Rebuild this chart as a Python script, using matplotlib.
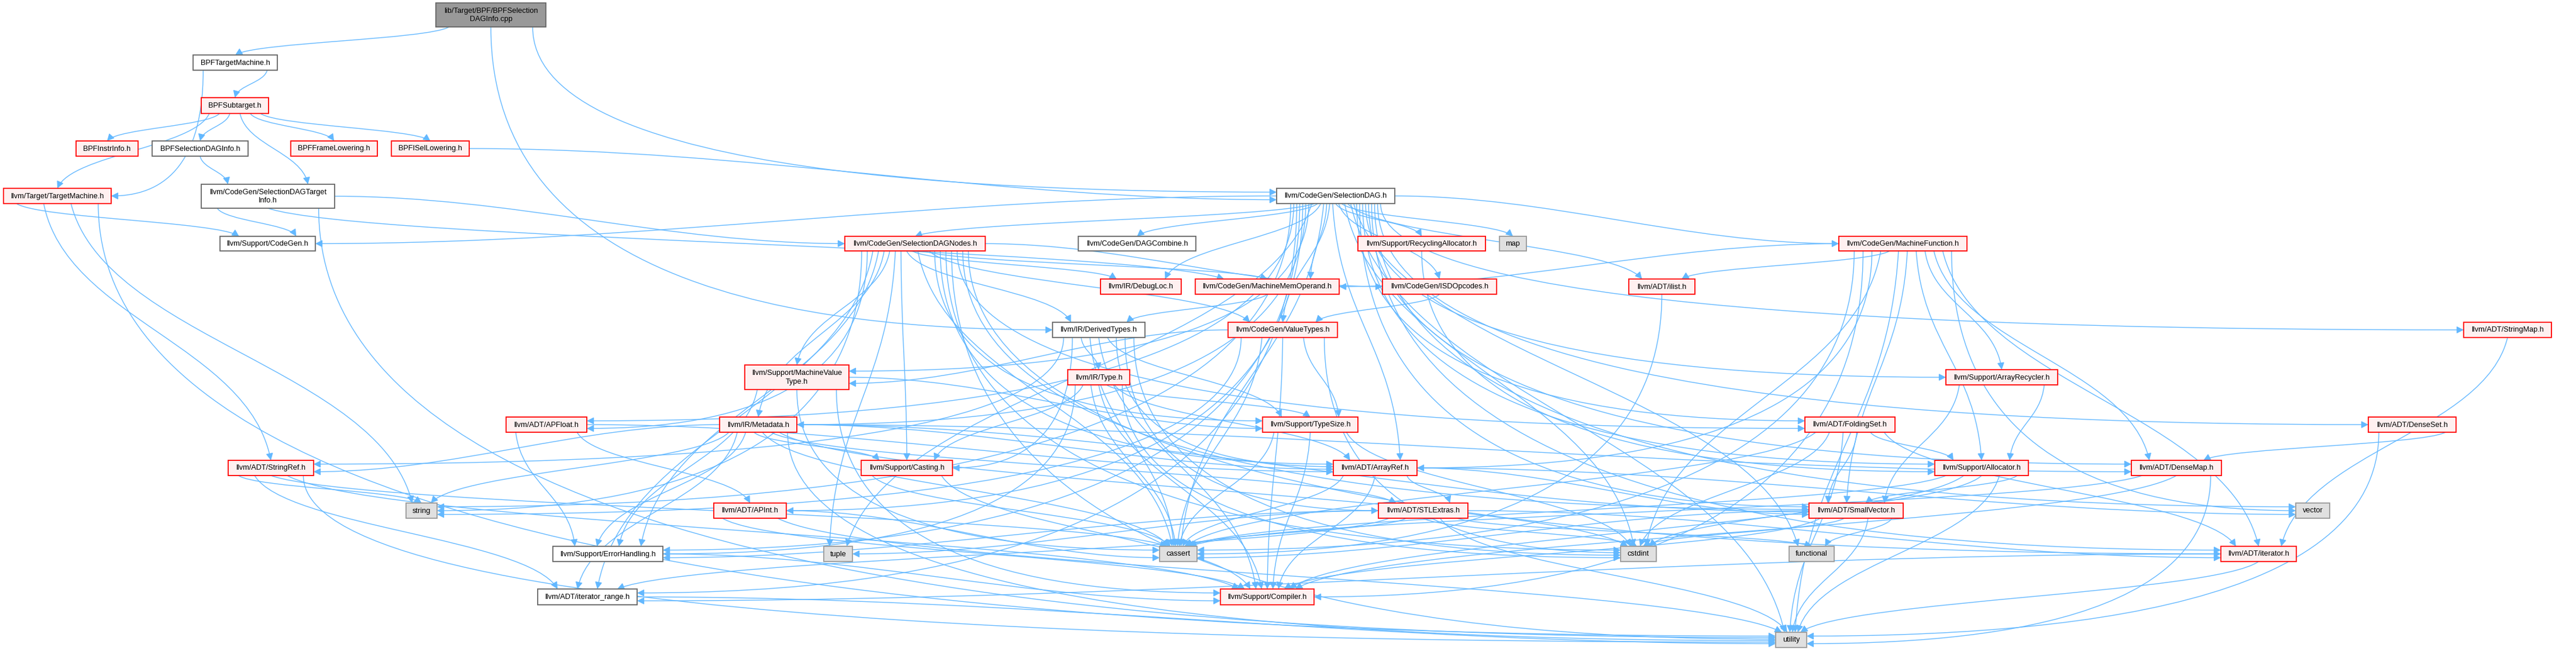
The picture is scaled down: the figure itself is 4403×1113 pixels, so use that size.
import matplotlib
matplotlib.use("Agg")
import matplotlib.pyplot as plt
from matplotlib.patches import Rectangle, FancyArrowPatch, ArrowStyle
from matplotlib.path import Path

# ---------------- data: node labels and include edges ----------------
ROOT = "lib/Target/BPF/BPFSelection\nDAGInfo.cpp"
SDTI = "llvm/CodeGen/SelectionDAGTarget\nInfo.h"
MVT = "llvm/Support/MachineValue\nType.h"

red_nodes = [
    "BPFSubtarget.h", "BPFInstrInfo.h", "BPFFrameLowering.h", "BPFISelLowering.h",
    "llvm/Target/TargetMachine.h", "llvm/CodeGen/SelectionDAGNodes.h",
    "llvm/Support/RecyclingAllocator.h", "llvm/CodeGen/MachineFunction.h",
    "llvm/IR/DebugLoc.h", "llvm/CodeGen/MachineMemOperand.h", "llvm/CodeGen/ISDOpcodes.h",
    "llvm/ADT/ilist.h", "llvm/CodeGen/ValueTypes.h", "llvm/ADT/StringMap.h", MVT,
    "llvm/IR/Type.h", "llvm/Support/ArrayRecycler.h", "llvm/ADT/APFloat.h",
    "llvm/IR/Metadata.h", "llvm/Support/TypeSize.h", "llvm/ADT/FoldingSet.h",
    "llvm/ADT/DenseSet.h", "llvm/ADT/StringRef.h", "llvm/Support/Casting.h",
    "llvm/ADT/ArrayRef.h", "llvm/Support/Allocator.h", "llvm/ADT/DenseMap.h",
    "llvm/ADT/APInt.h", "llvm/ADT/STLExtras.h", "llvm/ADT/SmallVector.h",
    "llvm/ADT/iterator.h", "llvm/Support/Compiler.h",
]
white_nodes = [
    "BPFTargetMachine.h", "BPFSelectionDAGInfo.h", SDTI, "llvm/CodeGen/SelectionDAG.h",
    "llvm/Support/CodeGen.h", "llvm/CodeGen/DAGCombine.h", "llvm/IR/DerivedTypes.h",
    "llvm/Support/ErrorHandling.h", "llvm/ADT/iterator_range.h",
]
system_nodes = ["map", "string", "vector", "tuple", "cassert", "cstdint", "functional", "utility"]

SD = "llvm/CodeGen/SelectionDAG.h"
SDN = "llvm/CodeGen/SelectionDAGNodes.h"
MF = "llvm/CodeGen/MachineFunction.h"
MMO = "llvm/CodeGen/MachineMemOperand.h"

includes = {
    ROOT: ["BPFTargetMachine.h", SD, "llvm/IR/DerivedTypes.h"],
    "BPFTargetMachine.h": ["BPFSubtarget.h", "llvm/Target/TargetMachine.h"],
    "BPFSubtarget.h": ["BPFInstrInfo.h", "BPFSelectionDAGInfo.h", "BPFFrameLowering.h",
                       "BPFISelLowering.h", SDTI, "llvm/Target/TargetMachine.h"],
    "BPFSelectionDAGInfo.h": [SDTI],
    "BPFISelLowering.h": [SD],
    "llvm/Target/TargetMachine.h": ["llvm/Support/CodeGen.h", "llvm/ADT/StringRef.h", "string", "utility"],
    SDTI: ["llvm/Support/CodeGen.h", SDN, MMO, "utility"],
    SD: ["llvm/ADT/APFloat.h", "llvm/ADT/APInt.h", "llvm/ADT/ArrayRef.h", "llvm/ADT/DenseMap.h",
         "llvm/ADT/DenseSet.h", "llvm/ADT/FoldingSet.h", "llvm/ADT/SmallVector.h",
         "llvm/ADT/StringMap.h", "llvm/ADT/ilist.h", "llvm/ADT/iterator.h",
         "llvm/ADT/iterator_range.h", "llvm/CodeGen/DAGCombine.h", "llvm/CodeGen/ISDOpcodes.h",
         MF, MMO, SDN, "llvm/CodeGen/ValueTypes.h", "llvm/IR/DebugLoc.h", "llvm/IR/Metadata.h",
         "llvm/Support/Allocator.h", "llvm/Support/ArrayRecycler.h", "llvm/Support/CodeGen.h",
         "llvm/Support/ErrorHandling.h", "llvm/Support/RecyclingAllocator.h", MVT,
         "cassert", "cstdint", "functional", "map", "string", "tuple", "utility", "vector"],
    SDN: ["llvm/ADT/APFloat.h", "llvm/ADT/ArrayRef.h", "llvm/ADT/FoldingSet.h",
          "llvm/ADT/SmallVector.h", "llvm/ADT/iterator.h", "llvm/ADT/iterator_range.h",
          "llvm/CodeGen/ISDOpcodes.h", MMO, "llvm/CodeGen/ValueTypes.h", "llvm/IR/DebugLoc.h",
          "llvm/IR/Metadata.h", "llvm/Support/Casting.h", "llvm/Support/ErrorHandling.h", MVT,
          "llvm/Support/TypeSize.h", "llvm/IR/DerivedTypes.h", "cassert", "cstdint", "string",
          "tuple", "utility"],
    MF: ["llvm/ADT/ArrayRef.h", "llvm/ADT/DenseMap.h", "llvm/ADT/SmallVector.h", "llvm/ADT/ilist.h",
         "llvm/ADT/iterator.h", MMO, "llvm/Support/Allocator.h", "llvm/Support/ArrayRecycler.h",
         "llvm/Support/Compiler.h", "cassert", "cstdint", "utility", "vector"],
    MMO: ["llvm/IR/DerivedTypes.h"],
    "llvm/CodeGen/ISDOpcodes.h": ["llvm/CodeGen/ValueTypes.h"],
    "llvm/ADT/ilist.h": ["cassert"],
    "llvm/CodeGen/ValueTypes.h": [MVT, "llvm/Support/TypeSize.h", "llvm/Support/Compiler.h",
                                  "cassert", "cstdint", "string"],
    "llvm/IR/DerivedTypes.h": ["llvm/ADT/ArrayRef.h", "llvm/ADT/STLExtras.h", "llvm/ADT/StringRef.h",
                               "llvm/IR/Type.h", "llvm/Support/Casting.h", "llvm/Support/Compiler.h",
                               "llvm/Support/TypeSize.h", "cassert", "cstdint"],
    "llvm/ADT/StringMap.h": ["llvm/ADT/iterator.h"],
    "llvm/ADT/DenseSet.h": ["llvm/ADT/DenseMap.h", "utility"],
    "llvm/ADT/DenseMap.h": ["llvm/Support/Compiler.h", "cassert", "utility"],
    "llvm/Support/ArrayRecycler.h": ["llvm/Support/Allocator.h", "llvm/ADT/SmallVector.h"],
    "llvm/Support/RecyclingAllocator.h": ["llvm/Support/Allocator.h"],
    "llvm/Support/Allocator.h": ["llvm/ADT/SmallVector.h", "llvm/Support/Compiler.h", "cassert",
                                 "cstdint", "utility"],
    "llvm/ADT/FoldingSet.h": ["llvm/ADT/SmallVector.h", "llvm/ADT/iterator.h",
                              "llvm/Support/Allocator.h", "cassert", "cstdint", "utility"],
    MVT: ["llvm/Support/Compiler.h", "llvm/Support/ErrorHandling.h", "llvm/Support/TypeSize.h",
          "cassert"],
    "llvm/IR/Type.h": ["llvm/ADT/ArrayRef.h", "llvm/Support/Casting.h", "llvm/Support/Compiler.h",
                       "llvm/Support/ErrorHandling.h", "llvm/Support/TypeSize.h", "cassert", "cstdint"],
    "llvm/IR/Metadata.h": ["llvm/ADT/ArrayRef.h", "llvm/ADT/DenseMap.h", "llvm/ADT/STLExtras.h",
                           "llvm/ADT/SmallVector.h", "llvm/ADT/StringRef.h",
                           "llvm/ADT/iterator_range.h", "llvm/Support/Casting.h",
                           "llvm/Support/ErrorHandling.h", "cassert", "cstdint", "string", "utility"],
    "llvm/ADT/APFloat.h": ["llvm/ADT/APInt.h", "llvm/ADT/ArrayRef.h", "llvm/Support/ErrorHandling.h"],
    "llvm/ADT/APInt.h": ["llvm/Support/Compiler.h", "cassert", "utility"],
    "llvm/ADT/StringRef.h": ["llvm/ADT/iterator_range.h", "llvm/Support/Compiler.h", "cassert",
                             "string", "utility"],
    "llvm/Support/Casting.h": ["llvm/Support/Compiler.h", "cassert"],
    "llvm/Support/TypeSize.h": ["llvm/Support/Compiler.h", "cassert", "cstdint"],
    "llvm/ADT/ArrayRef.h": ["llvm/ADT/STLExtras.h", "llvm/ADT/SmallVector.h",
                            "llvm/Support/Compiler.h", "cassert", "vector"],
    "llvm/ADT/STLExtras.h": ["llvm/ADT/iterator.h", "llvm/ADT/iterator_range.h",
                             "llvm/Support/ErrorHandling.h", "cassert", "cstdint", "functional",
                             "tuple", "utility"],
    "llvm/ADT/SmallVector.h": ["llvm/Support/Compiler.h", "cassert", "cstdint", "functional", "utility"],
    "llvm/ADT/iterator.h": ["llvm/ADT/iterator_range.h", "utility"],
    "llvm/ADT/iterator_range.h": ["utility"],
    "llvm/Support/ErrorHandling.h": ["llvm/Support/Compiler.h"],
}

# ---------------- layout (pixel boxes: x0, x1, y0, y1) ----------------
layout = {
    ROOT: (745, 933, 5, 46),
    "BPFTargetMachine.h": (330, 474, 94, 120),
    "BPFSubtarget.h": (344, 459, 167, 194),
    "BPFInstrInfo.h": (130, 236, 241, 267),
    "BPFSelectionDAGInfo.h": (260, 424, 241, 267),
    "BPFFrameLowering.h": (497, 645, 241, 267),
    "BPFISelLowering.h": (669, 802, 241, 267),
    "llvm/Target/TargetMachine.h": (6, 190, 322, 348),
    SDTI: (344, 572, 315, 356),
    SD: (2182, 2384, 322, 348),
    "llvm/Support/CodeGen.h": (376, 539, 404, 429),
    SDN: (1444, 1684, 404, 429),
    "llvm/CodeGen/DAGCombine.h": (1843, 2044, 404, 429),
    "llvm/Support/RecyclingAllocator.h": (2321, 2539, 404, 429),
    "map": (2563, 2609, 404, 429),
    MF: (3143, 3362, 404, 429),
    "llvm/IR/DebugLoc.h": (1881, 2019, 477, 503),
    MMO: (2043, 2289, 477, 503),
    "llvm/CodeGen/ISDOpcodes.h": (2363, 2558, 477, 503),
    "llvm/ADT/ilist.h": (2784, 2897, 477, 503),
    "llvm/IR/DerivedTypes.h": (1799, 1957, 551, 577),
    "llvm/CodeGen/ValueTypes.h": (2099, 2286, 551, 577),
    "llvm/ADT/StringMap.h": (4211, 4361, 551, 577),
    MVT: (1273, 1451, 624, 666),
    "llvm/IR/Type.h": (1825, 1931, 632, 658),
    "llvm/Support/ArrayRecycler.h": (3326, 3517, 632, 658),
    "llvm/ADT/APFloat.h": (865, 1003, 713, 739),
    "llvm/IR/Metadata.h": (1230, 1362, 713, 739),
    "llvm/Support/TypeSize.h": (2158, 2321, 713, 739),
    "llvm/ADT/FoldingSet.h": (3085, 3239, 713, 739),
    "llvm/ADT/DenseSet.h": (4048, 4198, 713, 739),
    "llvm/ADT/StringRef.h": (390, 536, 787, 813),
    "llvm/Support/Casting.h": (1472, 1628, 787, 813),
    "llvm/ADT/ArrayRef.h": (2279, 2422, 787, 813),
    "llvm/Support/Allocator.h": (3307, 3467, 787, 813),
    "llvm/ADT/DenseMap.h": (3643, 3797, 787, 813),
    "string": (694, 747, 860, 886),
    "llvm/ADT/APInt.h": (1220, 1344, 860, 886),
    "llvm/ADT/STLExtras.h": (2356, 2509, 860, 886),
    "llvm/ADT/SmallVector.h": (3092, 3253, 860, 886),
    "vector": (3924, 3982, 860, 886),
    "llvm/Support/ErrorHandling.h": (945, 1133, 934, 960),
    "tuple": (1408, 1457, 934, 960),
    "cassert": (1982, 2046, 934, 960),
    "cstdint": (2770, 2831, 934, 960),
    "functional": (3058, 3135, 934, 960),
    "llvm/ADT/iterator.h": (3796, 3925, 934, 960),
    "llvm/ADT/iterator_range.h": (919, 1089, 1007, 1034),
    "llvm/Support/Compiler.h": (2086, 2246, 1007, 1034),
    "utility": (3035, 3088, 1081, 1107),
}

W, H = 4403, 1113
EDGE = "#63B8FF"

fig = plt.figure(figsize=(W / 100, H / 100), dpi=100)
ax = fig.add_axes([0, 0, 1, 1])
ax.set_xlim(0, W)
ax.set_ylim(H, 0)
ax.axis("off")


def center(n):
    x0, x1, y0, y1 = layout[n]
    return (x0 + x1) / 2, (y0 + y1) / 2


edges = [(s, t) for s, ts in includes.items() for t in ts]


def mode(s, t):
    sx, _ = center(s)
    tx, _ = center(t)
    dx = abs(tx - sx)
    dy = max(layout[t][2] - layout[s][3], 1)
    if dx > 15 * dy:
        return "flat"          # leave from source side, enter target side
    if dy > 200 and dx > 1.5 * dy:
        return "side"          # leave from bottom, sweep into target side
    return "top"


# spread outgoing attachment points along source bottom
out_x = {}
for s in includes:
    ts = sorted([t for t in includes[s] if mode(s, t) != "flat"], key=lambda t: center(t)[0])
    x0, x1, _, _ = layout[s]
    w = x1 - x0
    n = len(ts)
    for i, t in enumerate(ts):
        frac = 0.5 if n == 1 else 0.12 + 0.76 * i / (n - 1)
        out_x[(s, t)] = x0 + frac * w

# spread incoming points along target top / sides
in_pt = {}
targets = {}
for s, t in edges:
    targets.setdefault(t, []).append(s)
for t, ss in targets.items():
    x0, x1, y0, y1 = layout[t]
    top = sorted([s for s in ss if mode(s, t) == "top"], key=lambda s: center(s)[0])
    sides = [s for s in ss if mode(s, t) != "top"]
    left = sorted([s for s in sides if center(s)[0] < center(t)[0]], key=lambda s: layout[s][3])
    right = sorted([s for s in sides if center(s)[0] >= center(t)[0]], key=lambda s: layout[s][3])
    n = len(top)
    for i, s in enumerate(top):
        frac = 0.5 if n == 1 else 0.2 + 0.6 * i / (n - 1)
        in_pt[(s, t)] = (x0 + frac * (x1 - x0), y0, "top")
    for grp, xx, side in ((left, x0, "left"), (right, x1, "right")):
        m = len(grp)
        for i, s in enumerate(grp):
            frac = 0.5 if m == 1 else 0.25 + 0.5 * i / (m - 1)
            in_pt[(s, t)] = (xx, y0 + frac * (y1 - y0), side)

style = ArrowStyle("-|>", head_length=0.55, head_width=0.28)
for s, t in edges:
    ex, ey, side = in_pt[(s, t)]
    m = mode(s, t)
    if m == "flat":
        x0, x1, y0, y1 = layout[s]
        sx = x1 if ex > x1 else x0
        sy = (y0 + y1) / 2
        dx = ex - sx
        c1 = (sx + 0.35 * dx, sy)
        c2 = (ex - 0.35 * dx, ey)
    else:
        sx = out_x[(s, t)]
        sy = layout[s][3]
        dx, dy = ex - sx, ey - sy
        if side == "top":
            c1 = (sx + 0.1 * dx, sy + 0.45 * dy)
            c2 = (ex - 0.1 * dx, ey - 0.45 * dy)
        else:
            sgn = 1 if side == "left" else -1
            c1 = (sx, sy + 0.85 * dy)
            c2 = (ex - sgn * 0.45 * abs(dx), ey)
    path = Path([(sx, sy), c1, c2, (ex, ey)],
                [Path.MOVETO, Path.CURVE4, Path.CURVE4, Path.CURVE4])
    ax.add_patch(FancyArrowPatch(path=path, arrowstyle=style, mutation_scale=13,
                                 color=EDGE, lw=1.0, shrinkA=0, shrinkB=0, zorder=1))


def draw_node(n, face, edge):
    x0, x1, y0, y1 = layout[n]
    ax.add_patch(Rectangle((x0, y0), x1 - x0, y1 - y0, facecolor=face, edgecolor=edge,
                           lw=1.3, zorder=3))
    ax.text((x0 + x1) / 2, (y0 + y1) / 2 + 0.5, n, ha="center", va="center",
            fontsize=9.2, family="Liberation Sans", color="black", zorder=4,
            linespacing=1.25)


draw_node(ROOT, "#999999", "#666666")
for n in red_nodes:
    draw_node(n, "#FFF0F0", "#FF0000")
for n in white_nodes:
    draw_node(n, "#FFFFFF", "#666666")
for n in system_nodes:
    draw_node(n, "#E0E0E0", "#999999")

fig.savefig("out.png", dpi=100, facecolor="white")
